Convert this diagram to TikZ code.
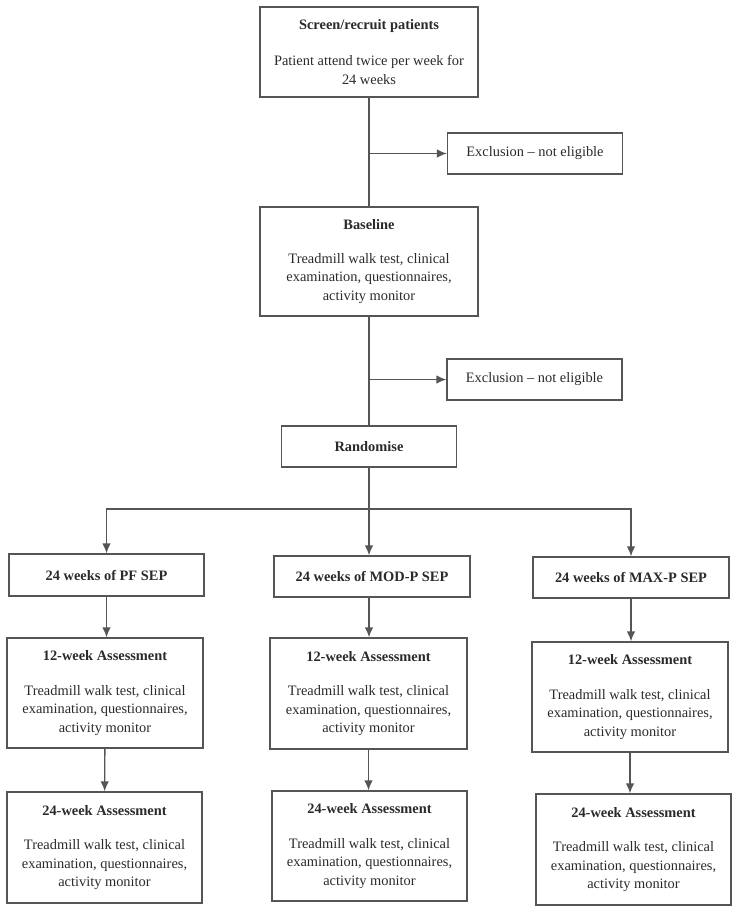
\documentclass[tikz,border=0pt]{standalone}
\usepackage{fontspec}
\setmainfont{Liberation Serif}
\usetikzlibrary{arrows.meta}

\definecolor{linegray}{HTML}{555555}
\definecolor{textgray}{HTML}{2A2A2A}

\newcommand{\testlist}{Treadmill walk test, clinical\\ examination, questionnaires,\\ activity monitor}

\begin{document}
\begin{tikzpicture}[x=1pt, y=-1pt,
    box/.style={draw=linegray, line width=1.3pt, align=center, text=textgray,
        inner sep=2pt, font=\fontsize{14.4}{18.6}\selectfont},
    link/.style={draw=linegray, line width=1.4pt},
    >={Latex[length=10pt,width=8.5pt]}]
    \useasboundingbox (0,0) rectangle (739,912);

    % Screening, baseline and randomisation
    \node[box, minimum width=218pt, minimum height=90pt] (screen) at (369,52)
        {\textbf{Screen/recruit patients}\\[17pt] Patient attend twice per week for\\ 24 weeks};
    \node[box, minimum width=175pt, minimum height=41pt] (excl1) at (535,153.5)
        {Exclusion -- not eligible};
    \node[box, minimum width=218pt, minimum height=109pt] (baseline) at (369,261.5)
        {\textbf{Baseline}\\[15pt] \testlist};
    \node[box, minimum width=175pt, minimum height=41pt] (excl2) at (534.5,379.5)
        {Exclusion -- not eligible};
    \node[box, minimum width=175pt, minimum height=41pt] (rand) at (369,446.5)
        {\textbf{Randomise}};

    % Three arms
    \node[box, minimum width=195pt, minimum height=42pt] (pf) at (106.5,575)
        {\textbf{24 weeks of PF SEP}};
    \node[box, minimum width=196pt, minimum height=41pt] (mod) at (372,576.5)
        {\textbf{24 weeks of MOD-P SEP}};
    \node[box, minimum width=196pt, minimum height=41pt] (max) at (631,577.5)
        {\textbf{24 weeks of MAX-P SEP}};

    % Assessments
    \node[box, minimum width=196pt, minimum height=110pt] (pf12) at (105,693)
        {\textbf{12-week Assessment}\\[16pt] \testlist};
    \node[box, minimum width=195pt, minimum height=111pt] (pf24) at (104.5,847.5)
        {\textbf{24-week Assessment}\\[16pt] \testlist};
    \node[box, minimum width=197pt, minimum height=111pt] (mod12) at (368.5,693.5)
        {\textbf{12-week Assessment}\\[16pt] \testlist};
    \node[box, minimum width=195pt, minimum height=110pt] (mod24) at (369.5,846)
        {\textbf{24-week Assessment}\\[16pt] \testlist};
    \node[box, minimum width=196pt, minimum height=110pt] (max12) at (630,697)
        {\textbf{12-week Assessment}\\[16pt] \testlist};
    \node[box, minimum width=195pt, minimum height=111pt] (max24) at (633.5,849.5)
        {\textbf{24-week Assessment}\\[16pt] \testlist};

    % Connectors
    \coordinate (split) at (369,509);
    \draw[link] (screen) -- (baseline);
    \draw[link, ->] (screen.south |- excl1.west) -- (excl1.west);
    \draw[link] (baseline) -- (rand);
    \draw[link, ->] (baseline.south |- excl2.west) -- (excl2.west);
    \draw[link] (rand) -- (split);
    \draw[link, ->] (split) -| (pf.north);
    \draw[link, ->] (split) -- (split |- mod.north);
    \draw[link, ->] (split) -| (max.north);
    \draw[link, ->] (pf.south) -- (pf.south |- pf12.north);
    \draw[link, ->] (mod.south -| split) -- (split |- mod12.north);
    \draw[link, ->] (max.south) -- (max.south |- max12.north);
    \draw[link, ->] (pf12) -- (pf24);
    \draw[link, ->] (mod12.south) -- (mod12.south |- mod24.north);
    \draw[link, ->] (max12.south) -- (max12.south |- max24.north);
\end{tikzpicture}
\end{document}
